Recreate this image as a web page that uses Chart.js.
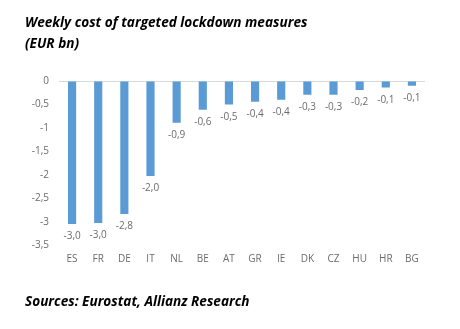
<!DOCTYPE html>
<html><head><meta charset="utf-8">
<script src="https://cdn.jsdelivr.net/npm/chart.js@4"></script>
<style>
html,body{margin:0;padding:0;background:#fff;}
#wrap{position:relative;width:460px;height:329px;overflow:hidden;}
canvas{position:absolute;left:0;top:0;}
.t{position:absolute;font-family:"Open Sans",sans-serif;font-weight:bold;font-style:italic;color:#000;white-space:nowrap;}
</style></head>
<body><div id="wrap">
<canvas id="c" width="460" height="329"></canvas>
<div class="t" style="left:25px;top:11px;font-size:13.6px;line-height:21px;">Weekly cost of targeted lockdown measures<br>(EUR bn)</div>
<div class="t" style="left:25px;top:291px;font-size:13.6px;">Sources: Eurostat, Allianz Research</div>
</div>
<script>
const categories = ["ES","FR","DE","IT","NL","BE","AT","GR","IE","DK","CZ","HU","HR","BG"];
const values = [-3.04,-3.02,-2.83,-2.02,-0.89,-0.61,-0.50,-0.44,-0.40,-0.29,-0.29,-0.19,-0.14,-0.10];
const yTicks = [0,-0.5,-1,-1.5,-2,-2.5,-3,-3.5];
const fmt = v => v.toFixed(1).replace('.', ',');
const labelFont = '10px "Open Sans", sans-serif';
const grey = '#6b6b6b';

const dataLabels = {
  id:'dataLabels',
  afterDatasetsDraw(chart){
    const ctx = chart.ctx;
    const meta = chart.getDatasetMeta(0);
    ctx.save();
    ctx.font = labelFont; ctx.fillStyle = grey;
    ctx.textAlign = 'center'; ctx.textBaseline = 'middle';
    meta.data.forEach((bar,i)=>{
      ctx.fillText(fmt(values[i]), bar.x, bar.y + 12.5);
    });
    ctx.restore();
  }
};

new Chart(document.getElementById('c'), {
  type:'bar',
  data:{labels:categories,datasets:[{data:values,backgroundColor:'#5b9bd5',barPercentage:0.6,categoryPercentage:0.52}]},
  options:{
    responsive:false,animation:false,
    layout:{padding:{left:0,right:35,top:81,bottom:58.5}},
    plugins:{legend:{display:false},tooltip:{enabled:false},title:{display:false}},
    scales:{
      x:{grid:{display:false,drawTicks:false},border:{display:false},
         ticks:{padding:8,color:grey,font:{family:'"Open Sans", sans-serif',size:10}},
         afterFit(s){s.height=25;}},
      y:{min:-3.5,max:0,
         afterBuildTicks(s){s.ticks=yTicks.map(v=>({value:v}));},
         grid:{drawTicks:false,color:ctx=>ctx.tick && ctx.tick.value===0?'#d9d9d9':'rgba(0,0,0,0)',lineWidth:1},
         border:{display:false},
         ticks:{padding:10,color:grey,font:{family:'"Open Sans", sans-serif',size:10},callback:v=>v===0?'0':fmt(v).replace(/,0$/,'')},
         afterFit(s){s.width=59;}}
    }
  },
  plugins:[dataLabels]
});
</script>
</body></html>
